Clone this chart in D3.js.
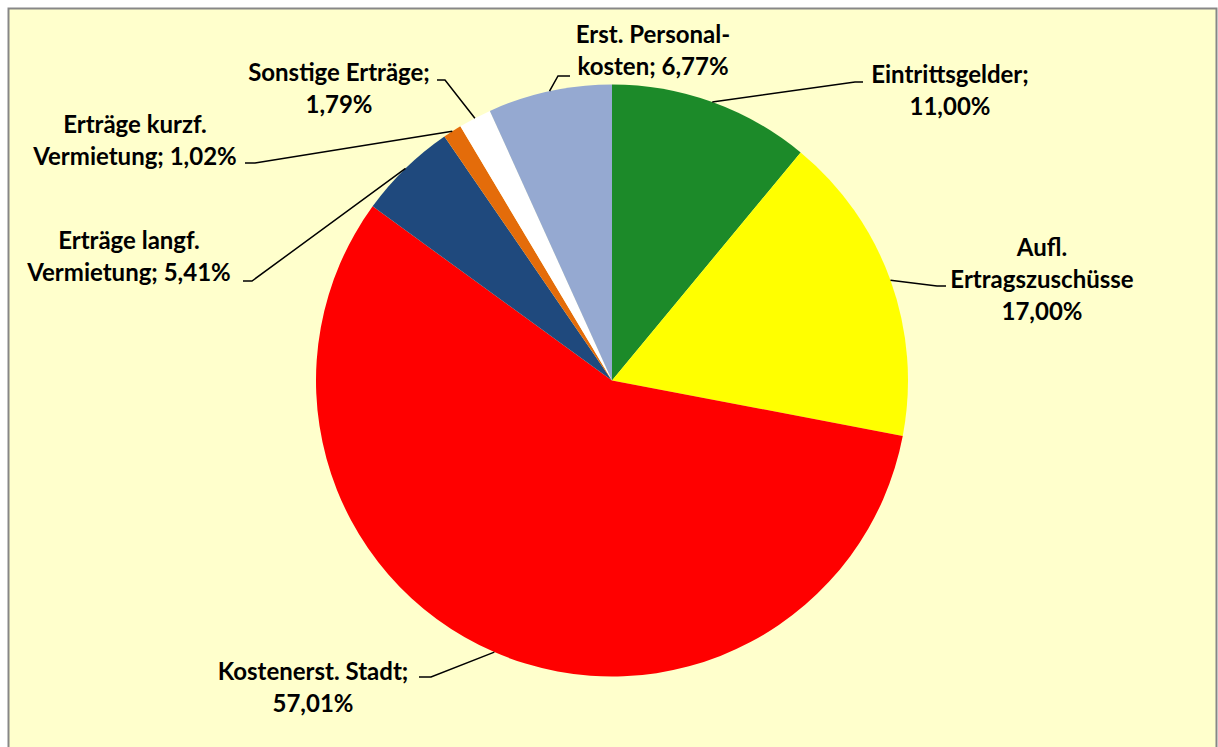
<!DOCTYPE html>
<html>
<head>
<meta charset="utf-8">
<script src="https://cdn.jsdelivr.net/npm/d3@7"></script>
<style>
  body { margin: 0; background: #ffffff; }
  svg { display: block; }
  text { font-family: Lato, "Open Sans", sans-serif; font-weight: bold; fill: #000; }
</style>
</head>
<body>
<svg id="drawing_region"></svg>
<script>
// data, clockwise from 12 o'clock
const categories = [
    'Eintrittsgelder;',
    'Aufl.\nErtragszuschüsse',
    'Kostenerst. Stadt;',
    'Erträge langf.\nVermietung;',
    'Erträge kurzf.\nVermietung;',
    'Sonstige Erträge;',
    'Erst. Personal-\nkosten;'
];
const values = [11.00, 17.00, 57.01, 5.41, 1.02, 1.79, 6.77];
// whether the percentage goes on its own line
const pctOwnLine = [true, true, true, false, false, true, false];
const colors = ['#1c8a29', '#ffff00', '#ff0000', '#1f497d', '#e46c0a', '#ffffff', '#95a9d1'];

// label layout: elbow of leader line, end of leader line, text centre x, first line y
const labelLayout = [
    {elbow:[855, 82],  end:[863, 82],  tx:950,  ty:75},
    {elbow:[937, 286], end:[946, 286], tx:1042, ty:248},
    {elbow:[431, 677], end:[419, 677], tx:313,  ty:672},
    {elbow:[252, 281], end:[243, 281], tx:129,  ty:241},
    {elbow:[255, 163], end:[245, 163], tx:135,  ty:125},
    {elbow:[445, 80],  end:[437, 80],  tx:339,  ty:73},
    {elbow:[558, 76],  end:[570, 76],  tx:653,  ty:35}
];

class PieChart {
    constructor( config ) {
        this.config = {
            parent: '#drawing_region',
            width: config.width || 1218,
            height: config.height || 747,
            cx: config.cx || 612,
            cy: config.cy || 380.5,
            radius: config.radius || 296
        };
        this.data = categories.map((c, i) => ({label:c, value:values[i], color:colors[i], own:pctOwnLine[i], layout:labelLayout[i]}));
        this.init();
    }

    init() {
        let self = this;
        self.svg = d3.select(self.config.parent)
            .attr('width', self.config.width)
            .attr('height', self.config.height);

        // background + frame
        self.svg.append('rect')
            .attr('x', 8.5).attr('y', 8.5)
            .attr('width', self.config.width - 10).attr('height', self.config.height)
            .attr('fill', '#ffffcc')
            .attr('stroke', '#878787')
            .attr('stroke-width', 2);

        self.chart = self.svg.append('g')
            .attr('transform', `translate(${self.config.cx}, ${self.config.cy})`);

        self.pie = d3.pie().sort(null).value(d => d.value);
        self.arc = d3.arc().innerRadius(0).outerRadius(self.config.radius);

        const locale = d3.formatLocale({decimal:',', thousands:'.', grouping:[3], currency:['', '€']});
        self.fmt = locale.format('.2f');

        self.render();
    }

    render() {
        let self = this;
        const arcs = self.pie(self.data);
        const r = self.config.radius;

        self.chart.selectAll('path.slice').data(arcs).enter()
            .append('path')
            .attr('class', 'slice')
            .attr('d', self.arc)
            .attr('fill', d => d.data.color);

        // leader lines
        const cx = self.config.cx, cy = self.config.cy;
        self.svg.selectAll('polyline.leader').data(arcs).enter()
            .append('polyline')
            .attr('class', 'leader')
            .attr('fill', 'none')
            .attr('stroke', '#000')
            .attr('stroke-width', 1.5)
            .attr('points', d => {
                const a = (d.startAngle + d.endAngle) / 2;
                const p = [cx + r * Math.sin(a), cy - r * Math.cos(a)];
                return [p, d.data.layout.elbow, d.data.layout.end].map(q => q.join(',')).join(' ');
            });

        // labels
        const labels = self.svg.selectAll('text.lbl').data(arcs).enter()
            .append('text')
            .attr('class', 'lbl')
            .attr('text-anchor', 'middle')
            .attr('font-size', 24);

        labels.each(function(d) {
            const lines = d.data.label.split('\n');
            const pct = self.fmt(d.data.value) + '%';
            if (d.data.own) lines.push(pct);
            else lines[lines.length - 1] += ' ' + pct;
            d3.select(this).selectAll('tspan').data(lines).enter()
                .append('tspan')
                .attr('x', d.data.layout.tx)
                .attr('y', (t, i) => d.data.layout.ty + i * 32)
                .attr('dy', '0.35em')
                .text(t => t);
        });
    }
}

new PieChart({});
</script>
</body>
</html>
